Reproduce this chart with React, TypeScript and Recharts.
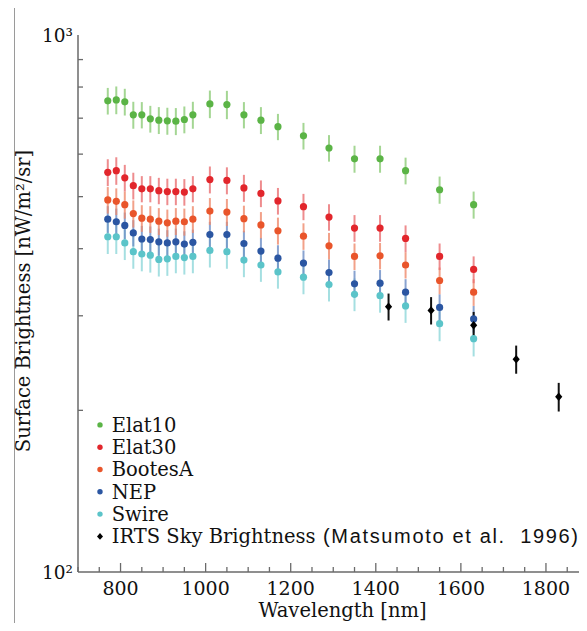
import React from 'react';
import { ScatterChart, Scatter, XAxis, YAxis, ErrorBar } from 'recharts';

// ---------- data ----------
const wavelengths = [770, 790, 810, 830, 850, 870, 890, 910, 930, 950, 970, 1010, 1050, 1090, 1130, 1170, 1230, 1290, 1350, 1410, 1470, 1550, 1630];

const elat10 = [754, 757, 751, 710, 710, 698, 694, 692, 691, 696, 710, 744, 742, 710, 694, 675, 649, 616, 588, 588, 559, 515, 483];
const elat10Err = [43, 45, 43, 41, 40, 40, 40, 40, 40, 40, 41, 44, 45, 40, 40, 38, 37, 35, 34, 34, 32, 30, 28];

const elat30 = [555, 559, 542, 524, 517, 517, 513, 511, 511, 510, 517, 538, 536, 519, 507, 491, 479, 458, 437, 437, 418, 387, 366];
const elat30Err = [32, 33, 31, 30, 29, 29, 29, 29, 29, 29, 29, 31, 31, 30, 29, 28, 27, 26, 25, 25, 24, 22, 21];

const bootesA = [493, 490, 483, 465, 456, 454, 450, 447, 450, 449, 454, 470, 468, 455, 443, 432, 422, 405, 387, 388, 373, 349, 332];
const bootesAErr = [28, 28, 28, 27, 26, 26, 26, 26, 26, 26, 26, 27, 27, 26, 25, 25, 24, 23, 22, 22, 21, 20, 19];

const nep = [454, 449, 442, 428, 417, 416, 412, 410, 412, 408, 411, 425, 425, 409, 396, 384, 376, 361, 344, 345, 332, 311, 296];
const nepErr = [26, 26, 25, 24, 24, 24, 24, 23, 24, 23, 23, 24, 24, 23, 23, 22, 21, 21, 20, 20, 19, 18, 17];

const swire = [421, 421, 410, 395, 391, 389, 382, 383, 387, 385, 387, 397, 395, 381, 373, 362, 354, 343, 329, 327, 313, 290, 272];
const swireErr = [30, 30, 29, 28, 28, 28, 27, 27, 27, 27, 27, 28, 28, 27, 26, 25, 25, 24, 23, 23, 22, 21, 20];

const irtsWavelengths = [1430, 1530, 1630, 1730, 1830];
const irts = [312, 307, 288, 249, 212];
const irtsErr = [18, 18, 17, 15, 13];

// ---------- ticks ----------
const xTicks = [700, 750, 800, 850, 900, 950, 1000, 1050, 1100, 1150, 1200, 1250, 1300, 1350, 1400, 1450, 1500, 1550, 1600, 1650, 1700, 1750, 1800, 1850, 1900];
const xTickLabels = [800, 1000, 1200, 1400, 1600, 1800];
const yTicks = [100, 200, 300, 400, 500, 600, 700, 800, 900, 1000];
const yTickLabels: Record<number, string> = { 100: '10²', 1000: '10³' };

const SERIF = "'DejaVu Serif', 'Liberation Serif', serif";
const SANS = "'Liberation Sans', Arial, sans-serif";
const AXIS = '#6a6a6a';

type Def = { name: string; wl: number[]; values: number[]; errors: number[]; color: string; bar: string; diamond?: boolean };

const defs: Def[] = [
  { name: 'Elat10', wl: wavelengths, values: elat10, errors: elat10Err, color: '#5bb446', bar: '#8dcc78' },
  { name: 'Elat30', wl: wavelengths, values: elat30, errors: elat30Err, color: '#e2262c', bar: '#ea6f72' },
  { name: 'BootesA', wl: wavelengths, values: bootesA, errors: bootesAErr, color: '#e9552b', bar: '#ef8a6c' },
  { name: 'NEP', wl: wavelengths, values: nep, errors: nepErr, color: '#2b56a2', bar: '#6b8cc4' },
  { name: 'Swire', wl: wavelengths, values: swire, errors: swireErr, color: '#5bc4c9', bar: '#8fd7da' },
  { name: 'IRTS Sky Brightness', wl: irtsWavelengths, values: irts, errors: irtsErr, color: '#000000', bar: '#111111', diamond: true },
];

const drawOrder = [4, 3, 2, 1, 0, 5];

const build = (d: Def) => d.wl.map((w, i) => ({ x: w, y: d.values[i], err: d.errors[i] }));

const BottomTick = (props: any) => {
  const { x, y, payload } = props;
  const v = payload.value;
  const major = v % 200 === 0;
  return (
    <g>
      <line x1={x} x2={x} y1={y} y2={y - (major ? 9 : 5)} stroke={AXIS} strokeWidth={1.3} />
      {xTickLabels.includes(v) && (
        <text x={x} y={y + 23} textAnchor="middle" fontFamily={SERIF} fontSize={19} fill="#111">
          {v}
        </text>
      )}
    </g>
  );
};

const TopTick = (props: any) => {
  const { x, y, payload } = props;
  const v = payload.value;
  const major = v % 200 === 0;
  return <line x1={x} x2={x} y1={y} y2={y + (major ? 9 : 5)} stroke={AXIS} strokeWidth={1.3} />;
};

const LeftTick = (props: any) => {
  const { x, y, payload } = props;
  const v = payload.value;
  const label = yTickLabels[v];
  return (
    <g>
      {!label && <line x1={x} x2={x + 5} y1={y} y2={y} stroke={AXIS} strokeWidth={1.3} />}
      {label && (
        <text x={x - 5} y={y + 7} textAnchor="end" fontFamily={SERIF} fontSize={18.5} fill="#111">
          {label}
        </text>
      )}
    </g>
  );
};

const RightTick = (props: any) => {
  const { x, y, payload } = props;
  const v = payload.value;
  if (yTickLabels[v]) return <g />;
  return <line x1={x} x2={x - 5} y1={y} y2={y} stroke={AXIS} strokeWidth={1.3} />;
};

const circleShape = (color: string) => (p: any) => <circle cx={p.cx} cy={p.cy} r={3.6} fill={color} />;
const diamondShape = (color: string) => (p: any) => (
  <path d={`M${p.cx},${p.cy - 4.2} L${p.cx + 3.6},${p.cy} L${p.cx},${p.cy + 4.2} L${p.cx - 3.6},${p.cy} Z`} fill={color} />
);

export default function App() {
  return (
    <div style={{ position: 'relative', width: 587, height: 631, margin: -8, overflow: 'hidden', background: '#fff' }}>
      <ScatterChart width={590} height={631} margin={{ top: 35, right: 1.5, bottom: 19, left: 18 }}>
        <XAxis
          xAxisId="b"
          dataKey="x"
          type="number"
          domain={[700, 1900]}
          allowDataOverflow
          ticks={xTicks}
          interval={0}
          tickSize={0}
          tickMargin={0}
          height={40}
          tick={<BottomTick />}
          axisLine={{ stroke: AXIS, strokeWidth: 1.5 }}
          tickLine={false}
        />
        <XAxis
          xAxisId="t"
          orientation="top"
          type="number"
          domain={[700, 1900]}
          allowDataOverflow
          ticks={xTicks}
          interval={0}
          tickSize={0}
          tickMargin={0}
          height={0}
          tick={<TopTick />}
          axisLine={{ stroke: AXIS, strokeWidth: 1.5 }}
          tickLine={false}
        />
        <YAxis
          yAxisId="l"
          dataKey="y"
          type="number"
          scale="log"
          domain={[100, 1000]}
          allowDataOverflow
          ticks={yTicks}
          interval={0}
          tickSize={0}
          tickMargin={0}
          width={60}
          tick={<LeftTick />}
          axisLine={{ stroke: AXIS, strokeWidth: 1.5 }}
          tickLine={false}
        />
        <YAxis
          yAxisId="r"
          orientation="right"
          type="number"
          scale="log"
          domain={[100, 1000]}
          allowDataOverflow
          ticks={yTicks}
          interval={0}
          tickSize={0}
          tickMargin={0}
          width={0}
          tick={<RightTick />}
          axisLine={{ stroke: AXIS, strokeWidth: 1.5 }}
          tickLine={false}
        />
        {drawOrder.map((i) => {
          const d = defs[i];
          return (
            <Scatter
              key={d.name}
              name={d.name}
              xAxisId="b"
              yAxisId="l"
              data={build(d)}
              isAnimationActive={false}
              shape={d.diamond ? diamondShape(d.color) : circleShape(d.color)}
            >
              <ErrorBar
                dataKey="err"
                direction="y"
                width={0}
                stroke={d.bar}
                strokeWidth={2}
                strokeOpacity={d.diamond ? 1 : 0.8}
                isAnimationActive={false}
              />
            </Scatter>
          );
        })}
      </ScatterChart>
      <svg
        width={587}
        height={631}
        style={{ position: 'absolute', left: 0, top: 0, pointerEvents: 'none' }}
      >
        <line x1={14.5} x2={14.5} y1={7} y2={631} stroke="#9a9a9a" strokeWidth={1} />
        <text
          transform="translate(30,301) rotate(-90)"
          textAnchor="middle"
          fontFamily={SERIF}
          fontSize={19.5}
          fill="#111"
        >
          Surface Brightness [nW/m²/sr]
        </text>
        <text x={342.5} y={617} textAnchor="middle" fontFamily={SERIF} fontSize={19.5} fill="#111">
          Wavelength [nm]
        </text>
        {defs.map((d, i) => {
          const by = 431.7 + i * 22.3;
          const cy = by - 6.8;
          return (
            <g key={d.name}>
              {d.diamond ? (
                <path d={`M100,${cy - 3.4} L103,${cy} L100,${cy + 3.4} L97,${cy} Z`} fill={d.color} />
              ) : (
                <circle cx={100} cy={cy} r={2.7} fill={d.color} />
              )}
              <text x={111.7} y={by} fontFamily={SERIF} fontSize={19.5} fill="#111">
                {d.name}
              </text>
              {d.diamond && (
                <text
                  x={323}
                  y={by}
                  fontFamily={SANS}
                  fontSize={20}
                  fill="#111"
                  textLength={255}
                  lengthAdjust="spacing"
                  style={{ whiteSpace: 'pre' }}
                >
                  (Matsumoto et al.  1996)
                </text>
              )}
            </g>
          );
        })}
      </svg>
    </div>
  );
}
